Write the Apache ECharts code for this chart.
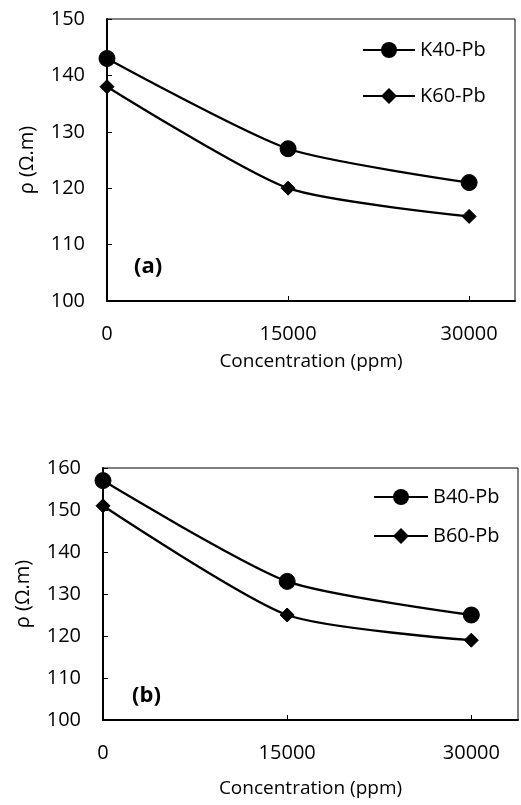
<!DOCTYPE html>
<html>
<head>
<meta charset="utf-8">
<script src="https://cdn.jsdelivr.net/npm/echarts@6/dist/echarts.min.js"></script>
<style>
html,body{margin:0;padding:0;background:#fff;}
#c{width:521px;height:805px;}
</style>
</head>
<body>
<div id="c"></div>
<script>
// Data
var concentration = [0, 15000, 30000];
var xTicks = [0, 15000, 30000];
var K40Pb = [143, 127, 121];
var K60Pb = [138, 120, 115];
var B40Pb = [157, 133, 125];
var B60Pb = [151, 125, 119];
var seriesNamesA = ['K40-Pb', 'K60-Pb'];
var seriesNamesB = ['B40-Pb', 'B60-Pb'];
var yRangeA = [100, 150];
var yRangeB = [100, 160];
var panelLabels = ['(a)', '(b)'];

var FONT = '"Open Sans", "Noto Sans", sans-serif';
function pairs(xs, ys){ return xs.map(function(x,i){ return [x, ys[i]]; }); }

function xAxisCfg(idx, gap){
  return {
    type:'value', gridIndex: idx, min: 0, max: 33800, interval: 15000,
    name: 'Concentration (ppm)', nameLocation:'middle', nameGap: gap,
    nameTextStyle:{fontFamily:FONT, fontSize:19, color:'#000'},
    axisLine:{show:true, onZero:false, lineStyle:{color:'#000', width:2}},
    axisTick:{show:true, inside:true, length:5, lineStyle:{color:'#000', width:1}},
    axisLabel:{fontFamily:FONT, fontSize:20, color:'#000', margin:23, showMaxLabel:false,
      formatter:function(v){ return xTicks.indexOf(v) >= 0 ? String(v) : ''; }},
    splitLine:{show:false}
  };
}
function yAxisCfg(idx, range){
  return {
    type:'value', gridIndex: idx, min: range[0], max: range[1], interval: 10,
    name: 'ρ (Ω.m)', nameLocation:'middle', nameGap: 70, nameRotate: 90,
    nameTextStyle:{fontFamily:FONT, fontSize:20, color:'#000'},
    axisLine:{show:true, onZero:false, lineStyle:{color:'#000', width:2}},
    axisTick:{show:true, inside:true, length:5, lineStyle:{color:'#000', width:1}},
    axisLabel:{fontFamily:FONT, fontSize:20, color:'#000', margin:22},
    splitLine:{show:false}
  };
}
function lineSeries(name, idx, data, symbol, size){
  return {
    type:'line', name:name, xAxisIndex: idx, yAxisIndex: idx,
    data: pairs(concentration, data), smooth: 0.22,
    symbol: symbol, symbolSize: size,
    lineStyle:{color:'#000', width:2.3},
    itemStyle:{color:'#000', borderColor:'#000'}
  };
}

var chart = echarts.init(document.getElementById('c'), null, {renderer:'canvas'});
chart.setOption({
  backgroundColor:'#fff',
  animation:false,
  grid:[
    {left:107, top:19, right:6, height:282, show:true, borderColor:'#000', borderWidth:1, backgroundColor:'transparent'},
    {left:103, top:468, right:3, height:252, show:true, borderColor:'#000', borderWidth:1, backgroundColor:'transparent'}
  ],
  xAxis:[ xAxisCfg(0, 51), xAxisCfg(1, 59) ],
  yAxis:[ yAxisCfg(0, yRangeA), yAxisCfg(1, yRangeB) ],
  legend:[
    {data: seriesNamesA, orient:'vertical', left:362, top:40, padding:0, itemWidth:52, itemHeight:20, itemGap:26,
     textStyle:{fontFamily:FONT, fontSize:20, color:'#000'}},
    {data: seriesNamesB, orient:'vertical', left:373, top:487, padding:0, itemWidth:54, itemHeight:20, itemGap:19,
     textStyle:{fontFamily:FONT, fontSize:20, color:'#000'}}
  ],
  graphic:[
    {type:'text', left:134, top:256, style:{text:panelLabels[0], font:'bold 22px "Open Sans", sans-serif', fill:'#000'}},
    {type:'text', left:132, top:685, style:{text:panelLabels[1], font:'bold 22px "Open Sans", sans-serif', fill:'#000'}}
  ],
  series:[
    lineSeries(seriesNamesA[0], 0, K40Pb, 'circle', 16),
    lineSeries(seriesNamesA[1], 0, K60Pb, 'diamond', 14),
    lineSeries(seriesNamesB[0], 1, B40Pb, 'circle', 16),
    lineSeries(seriesNamesB[1], 1, B60Pb, 'diamond', 14)
  ]
});
</script>
</body>
</html>
